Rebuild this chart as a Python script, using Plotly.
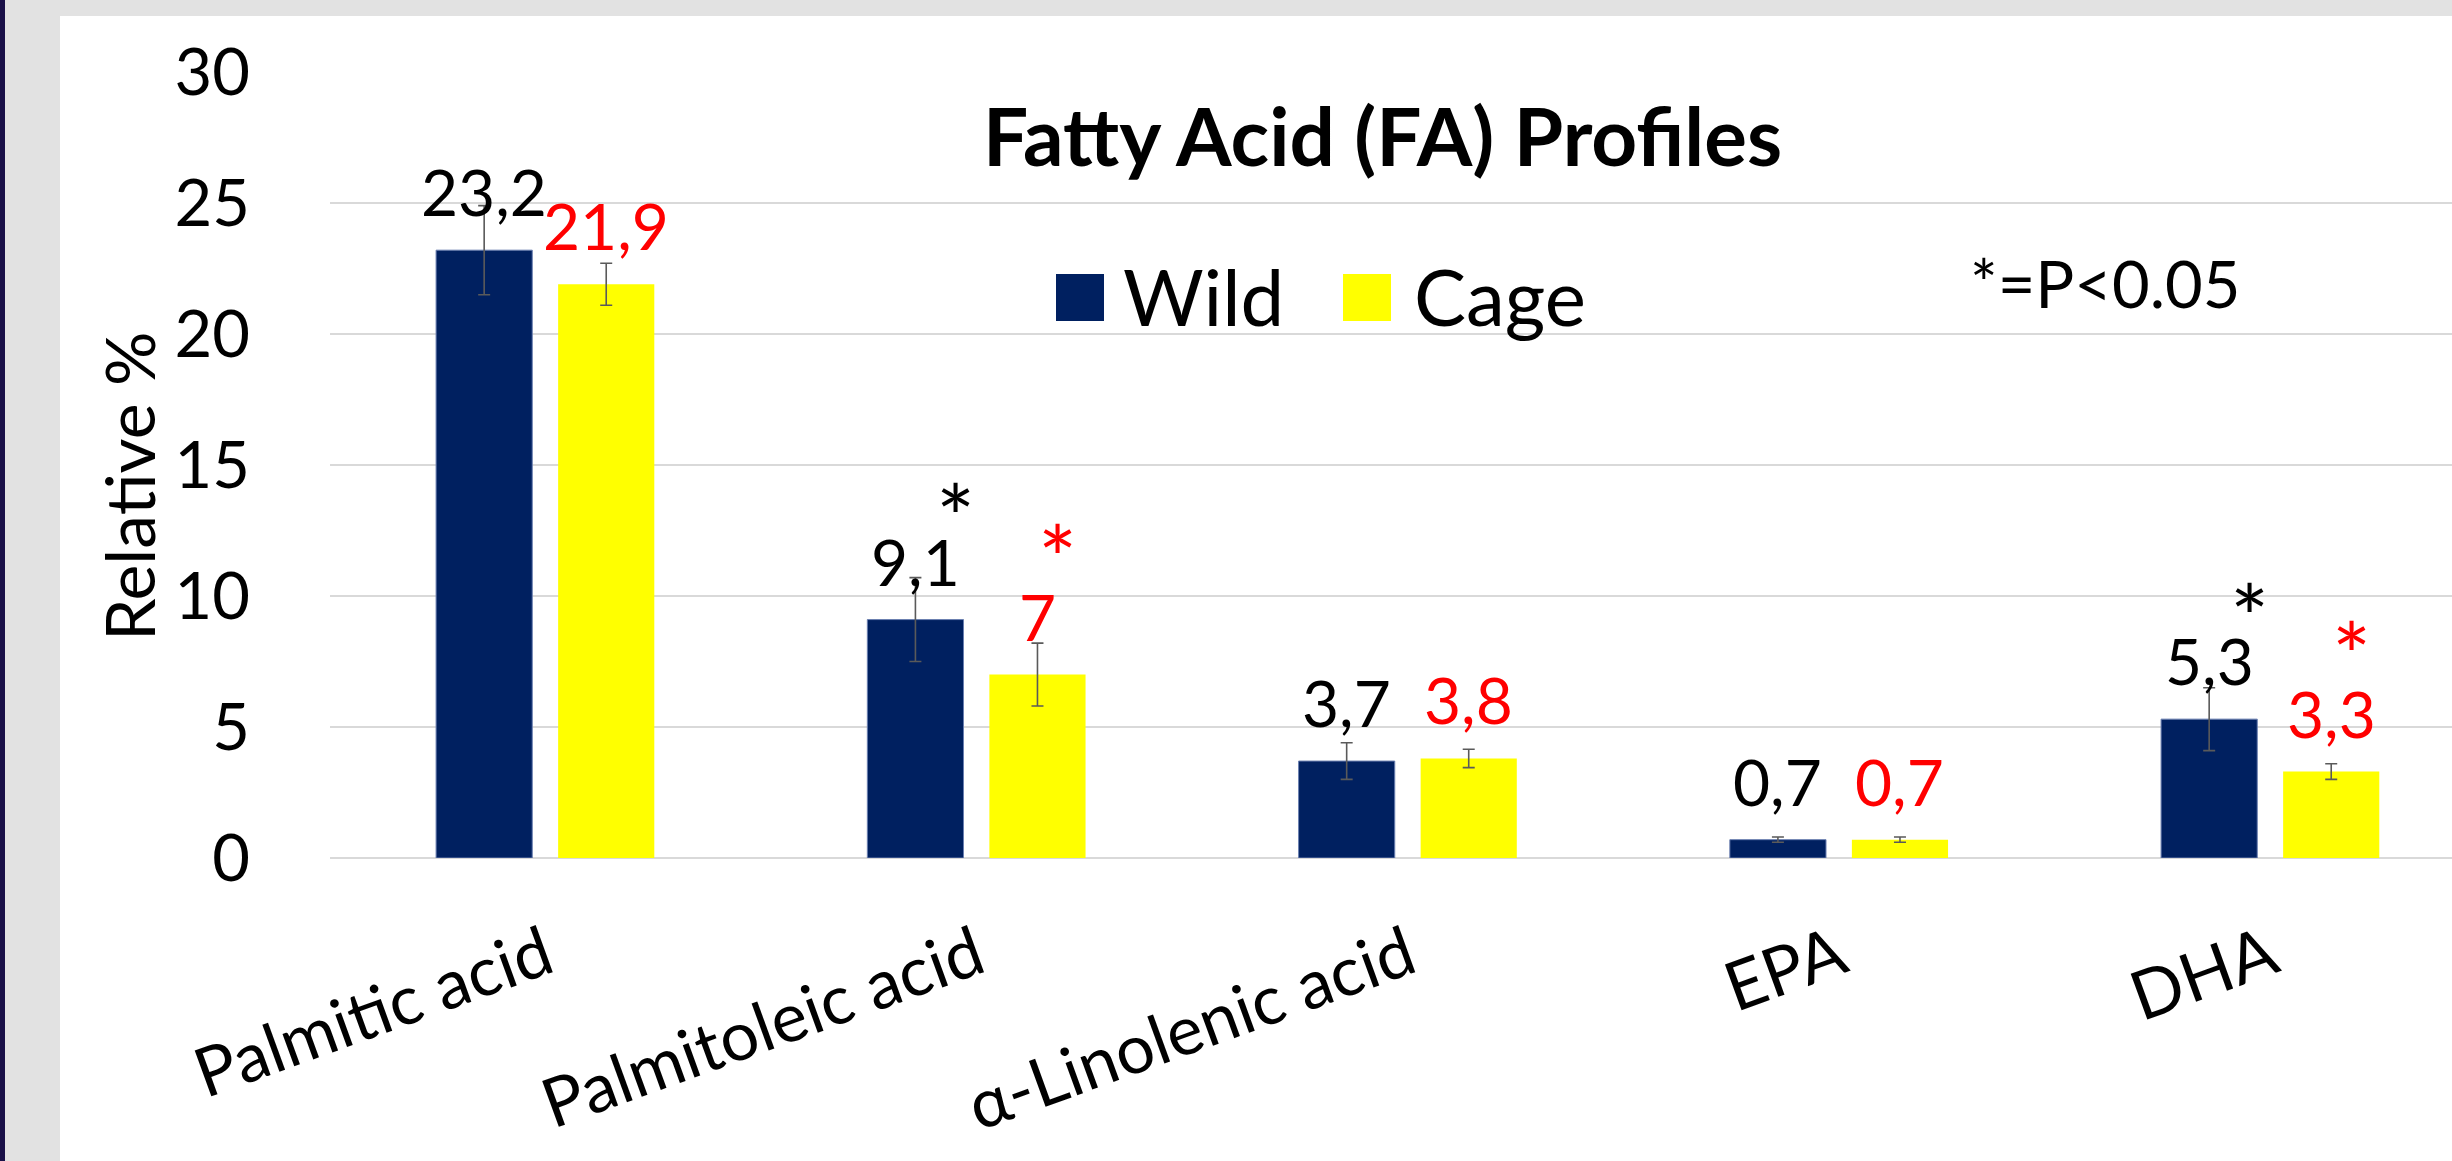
import plotly.graph_objects as go

# ---------------- data ----------------
categories = ["Palmitic acid", "Palmitoleic acid", "α-Linolenic acid", "EPA", "DHA"]
wild = [23.2, 9.1, 3.7, 0.7, 5.3]
cage = [21.9, 7.0, 3.8, 0.7, 3.3]
wild_err = [1.7, 1.6, 0.7, 0.1, 1.2]
cage_err = [0.8, 1.2, 0.35, 0.1, 0.3]
wild_labels = ["23,2", "9,1", "3,7", "0,7", "5,3"]
cage_labels = ["21,9", "7", "3,8", "0,7", "3,3"]
wild_sig = [False, True, False, False, True]
cage_sig = [False, True, False, False, True]
y_ticks = [0, 5, 10, 15, 20, 25, 30]

# ---------------- layout constants ----------------
W, H = 2452, 1161
L, R, T, B = 330, 0, 72, 303
FONT = "Lato"
WILD_C = "#002060"
CAGE_C = "#FFFF00"
BAR_W = 0.223
WILD_OFF = -0.254
CAGE_OFF = 0.029

pw = W - L - R
ph = H - T - B


def px(xp):
    return (xp - L) / pw


def py(yp):
    return (H - B - yp) / ph


fig = go.Figure()
fig.add_trace(go.Bar(
    x=list(range(len(categories))), y=wild, name="Wild", width=BAR_W, offset=WILD_OFF,
    marker=dict(color=WILD_C, line=dict(color="#6a7fb0", width=1)),
    error_y=dict(type="data", array=wild_err, color="#5a5a5a", thickness=1.6, width=6),
    showlegend=False, cliponaxis=False,
))
fig.add_trace(go.Bar(
    x=list(range(len(categories))), y=cage, name="Cage", width=BAR_W, offset=CAGE_OFF,
    marker=dict(color=CAGE_C, line=dict(width=0)),
    error_y=dict(type="data", array=cage_err, color="#5a5a5a", thickness=1.6, width=6),
    showlegend=False, cliponaxis=False,
))

ann = []
# value labels
for i, (v, t) in enumerate(zip(wild, wild_labels)):
    ann.append(dict(x=i + WILD_OFF + BAR_W / 2, y=v, xref="x", yref="y", text=t, showarrow=False,
                    yanchor="bottom", yshift=18, font=dict(family=FONT, size=64, color="black")))
for i, (v, t) in enumerate(zip(cage, cage_labels)):
    ann.append(dict(x=i + CAGE_OFF + BAR_W / 2, y=v, xref="x", yref="y", text=t, showarrow=False,
                    yanchor="bottom", yshift=18, font=dict(family=FONT, size=64, color="red")))
# significance stars
for i, (v, s) in enumerate(zip(wild, wild_sig)):
    if s:
        ann.append(dict(x=i + WILD_OFF + BAR_W / 2, y=v, xref="x", yref="y", text="*", showarrow=False,
                        yanchor="middle", yshift=104, xshift=40,
                        font=dict(family=FONT, size=92, color="black")))
for i, (v, s) in enumerate(zip(cage, cage_sig)):
    if s:
        ann.append(dict(x=i + CAGE_OFF + BAR_W / 2, y=v, xref="x", yref="y", text="*", showarrow=False,
                        yanchor="middle", yshift=118, xshift=20,
                        font=dict(family=FONT, size=92, color="red")))

# title
ann.append(dict(x=px(1382), y=py(135), xref="paper", yref="paper", text="<b>Fatty Acid (FA) Profiles</b>",
                showarrow=False, xanchor="center", yanchor="middle",
                font=dict(family=FONT, size=80, color="black")))
# legend texts
ann.append(dict(x=px(1121), y=py(296), xref="paper", yref="paper", text="Wild", showarrow=False,
                xanchor="left", yanchor="middle", font=dict(family=FONT, size=78, color="black")))
ann.append(dict(x=px(1412), y=py(296), xref="paper", yref="paper", text="Cage", showarrow=False,
                xanchor="left", yanchor="middle", font=dict(family=FONT, size=78, color="black")))
# p-value note
ann.append(dict(x=px(2105), y=py(283), xref="paper", yref="paper", text="*=P<0.05", showarrow=False,
                xanchor="center", yanchor="middle", font=dict(family=FONT, size=65, color="black")))
# y-axis title
ann.append(dict(x=px(128), y=py(486), xref="paper", yref="paper", text="Relative %", showarrow=False,
                textangle=-90, xanchor="center", yanchor="middle",
                font=dict(family=FONT, size=68, color="black")))

shapes = [
    # white panel
    dict(type="rect", xref="paper", yref="paper", x0=px(60), x1=px(W + 20), y0=py(H + 20), y1=py(16),
         fillcolor="white", line=dict(width=0), layer="below"),
    # dark left strip
    dict(type="rect", xref="paper", yref="paper", x0=px(0), x1=px(5), y0=py(H + 20), y1=py(0),
         fillcolor="#1a1048", line=dict(width=0), layer="below"),
    # legend swatches
    dict(type="rect", xref="paper", yref="paper", x0=px(1056), x1=px(1104), y0=py(321), y1=py(274),
         fillcolor=WILD_C, line=dict(width=0)),
    dict(type="rect", xref="paper", yref="paper", x0=px(1343), x1=px(1391), y0=py(321), y1=py(274),
         fillcolor=CAGE_C, line=dict(width=0)),
]

fig.update_layout(
    width=W, height=H, autosize=False,
    margin=dict(l=L, r=R, t=T, b=B, pad=0, autoexpand=False),
    paper_bgcolor="#e2e2e2",
    plot_bgcolor="white",
    barmode="overlay",
    showlegend=False,
    font=dict(family=FONT, color="black"),
    annotations=ann,
    shapes=shapes,
    xaxis=dict(
        range=[-0.5, -0.5 + pw / 431.25], automargin=False,
        tickvals=list(range(len(categories))), ticktext=categories,
        tickangle=-20, tickfont=dict(family=FONT, size=68, color="black"),
        ticks="outside", ticklen=32, tickcolor="rgba(0,0,0,0)",
        showgrid=False, zeroline=False, showline=False,
    ),
    yaxis=dict(
        range=[0, 30], automargin=False, tickvals=y_ticks, ticktext=[str(v) for v in y_ticks],
        tickfont=dict(family=FONT, size=65, color="black"),
        ticks="outside", ticklen=66, tickcolor="rgba(0,0,0,0)",
        showgrid=True, gridcolor="#d9d9d9", gridwidth=2,
        zeroline=True, zerolinecolor="#d9d9d9", zerolinewidth=2, showline=False,
    ),
)

fig.write_html("out.html", config={"displayModeBar": False},
               post_script="document.body.style.margin='0';document.body.style.overflow='hidden';")
